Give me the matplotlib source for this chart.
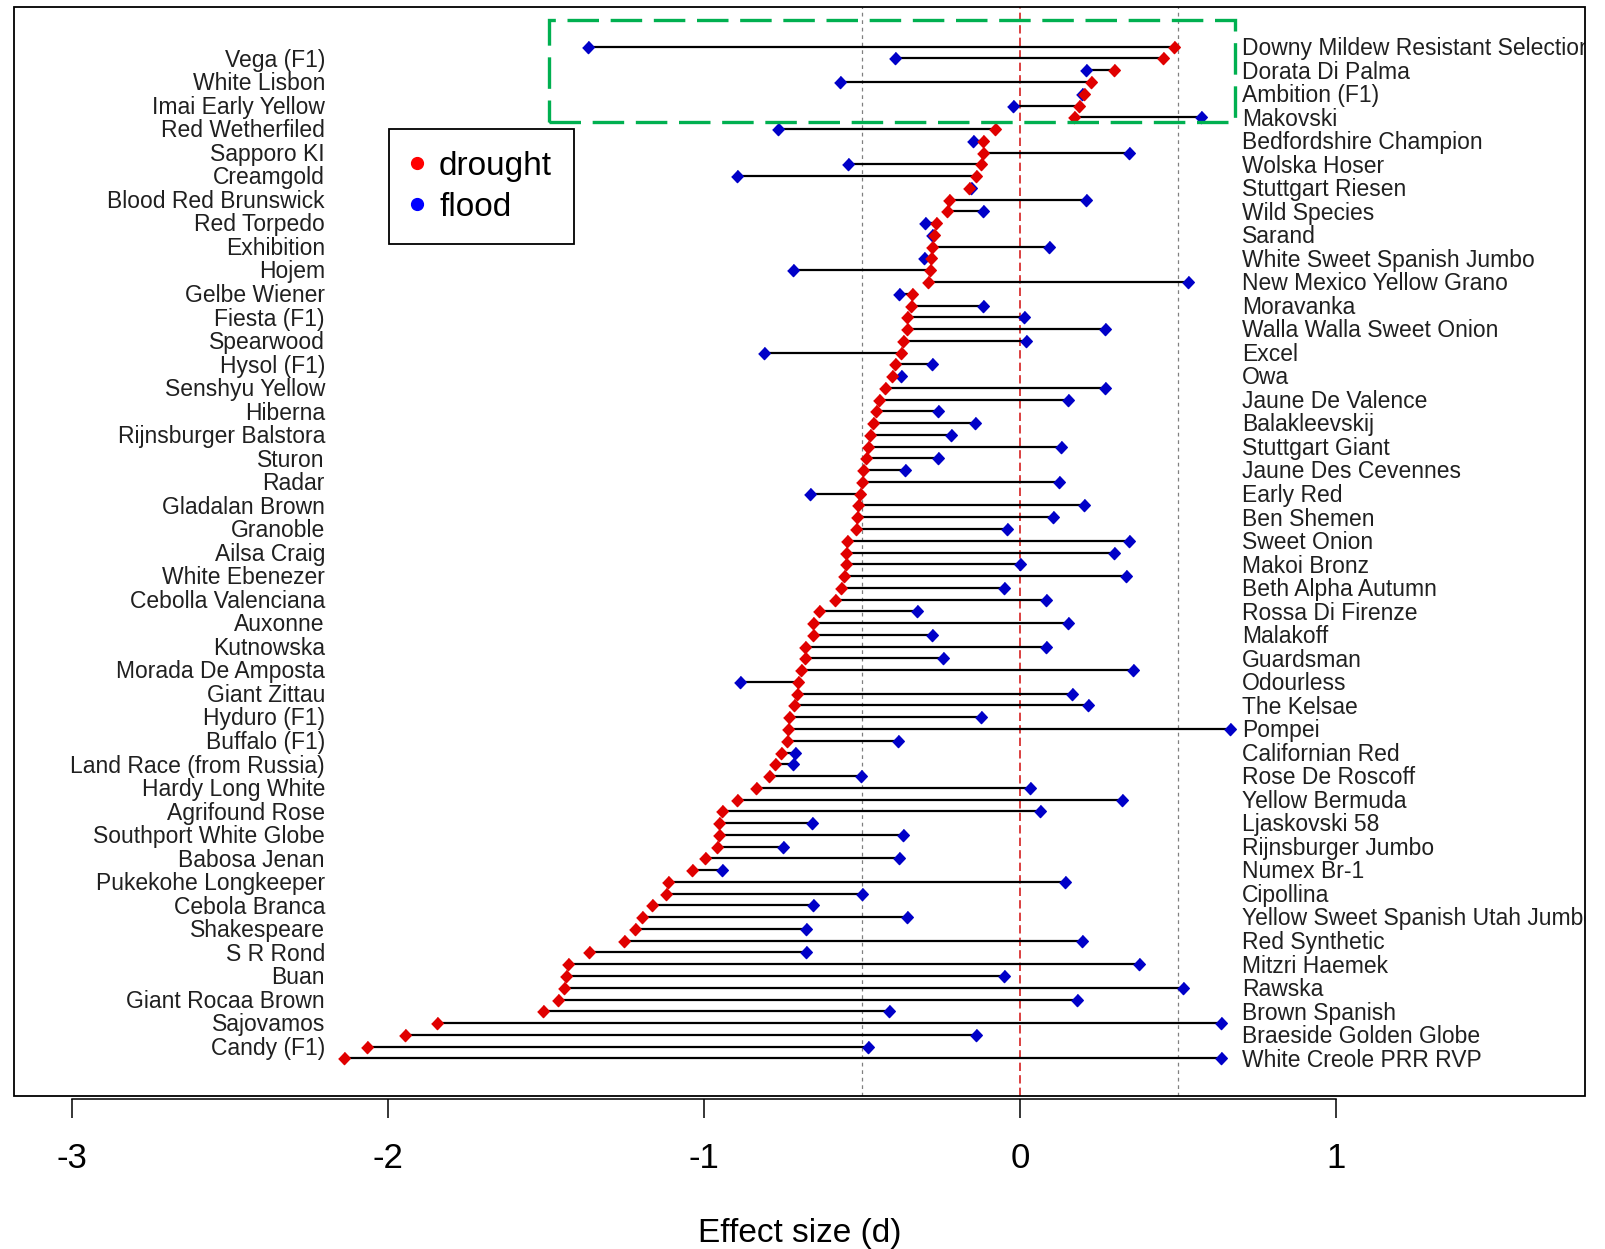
import numpy as np
import matplotlib
matplotlib.use("Agg")
import matplotlib.pyplot as plt
from matplotlib.lines import Line2D
from matplotlib.patches import Rectangle

plt.rcParams["font.family"] = ["Liberation Sans", "DejaVu Sans"]
plt.rcParams["axes.unicode_minus"] = False

# cultivars top to bottom (even rows labelled on the right, odd rows on the left)
cultivars = [
    "Downy Mildew Resistant Selection", "Vega (F1)", "Dorata Di Palma", "White Lisbon",
    "Ambition (F1)", "Imai Early Yellow", "Makovski", "Red Wetherfiled",
    "Bedfordshire Champion", "Sapporo KI", "Wolska Hoser", "Creamgold",
    "Stuttgart Riesen", "Blood Red Brunswick", "Wild Species", "Red Torpedo",
    "Sarand", "Exhibition", "White Sweet Spanish Jumbo", "Hojem",
    "New Mexico Yellow Grano", "Gelbe Wiener", "Moravanka", "Fiesta (F1)",
    "Walla Walla Sweet Onion", "Spearwood", "Excel", "Hysol (F1)",
    "Owa", "Senshyu Yellow", "Jaune De Valence", "Hiberna",
    "Balakleevskij", "Rijnsburger Balstora", "Stuttgart Giant", "Sturon",
    "Jaune Des Cevennes", "Radar", "Early Red", "Gladalan Brown",
    "Ben Shemen", "Granoble", "Sweet Onion", "Ailsa Craig",
    "Makoi Bronz", "White Ebenezer", "Beth Alpha Autumn", "Cebolla Valenciana",
    "Rossa Di Firenze", "Auxonne", "Malakoff", "Kutnowska",
    "Guardsman", "Morada De Amposta", "Odourless", "Giant Zittau",
    "The Kelsae", "Hyduro (F1)", "Pompei", "Buffalo (F1)",
    "Californian Red", "Land Race (from Russia)", "Rose De Roscoff", "Hardy Long White",
    "Yellow Bermuda", "Agrifound Rose", "Ljaskovski 58", "Southport White Globe",
    "Rijnsburger Jumbo", "Babosa Jenan", "Numex Br-1", "Pukekohe Longkeeper",
    "Cipollina", "Cebola Branca", "Yellow Sweet Spanish Utah Jumbo", "Shakespeare",
    "Red Synthetic", "S R Rond", "Mitzri Haemek", "Buan",
    "Rawska", "Giant Rocaa Brown", "Brown Spanish", "Sajovamos",
    "Braeside Golden Globe", "Candy (F1)", "White Creole PRR RVP",
]

drought = [
    0.487, 0.452, 0.298, 0.224, 0.202, 0.185, 0.169, -0.080, -0.119, -0.119,
    -0.124, -0.141, -0.161, -0.224, -0.231, -0.267, -0.274, -0.278, -0.281, -0.285,
    -0.291, -0.341, -0.344, -0.359, -0.359, -0.372, -0.378, -0.396, -0.406, -0.428,
    -0.446, -0.457, -0.465, -0.476, -0.480, -0.489, -0.498, -0.502, -0.507, -0.513,
    -0.515, -0.520, -0.548, -0.552, -0.552, -0.557, -0.567, -0.587, -0.635, -0.654,
    -0.654, -0.681, -0.681, -0.693, -0.702, -0.707, -0.717, -0.730, -0.735, -0.739,
    -0.757, -0.776, -0.794, -0.837, -0.896, -0.943, -0.952, -0.952, -0.959, -0.996,
    -1.039, -1.113, -1.122, -1.165, -1.196, -1.220, -1.254, -1.365, -1.431, -1.437,
    -1.443, -1.461, -1.511, -1.844, -1.948, -2.067, -2.141,
]

flood = [
    -1.367, -0.396, 0.209, -0.569, 0.196, -0.024, 0.572, -0.767, -0.150, 0.346,
    -0.544, -0.896, -0.156, 0.207, -0.119, -0.300, -0.280, 0.091, -0.304, -0.719,
    0.530, -0.383, -0.119, 0.011, 0.270, 0.017, -0.809, -0.280, -0.378, 0.270,
    0.150, -0.261, -0.143, -0.219, 0.128, -0.261, -0.363, 0.122, -0.665, 0.202,
    0.104, -0.041, 0.346, 0.298, -0.002, 0.335, -0.050, 0.081, -0.326, 0.150,
    -0.280, 0.081, -0.243, 0.357, -0.887, 0.163, 0.215, -0.124, 0.663, -0.387,
    -0.711, -0.719, -0.504, 0.030, 0.322, 0.063, -0.659, -0.372, -0.752, -0.383,
    -0.943, 0.141, -0.502, -0.656, -0.359, -0.678, 0.196, -0.678, 0.376, -0.050,
    0.515, 0.181, -0.415, 0.635, -0.141, -0.480, 0.635,
]

x_ticks = [-3, -2, -1, 0, 1]

rows = np.arange(len(cultivars))

fig = plt.figure(figsize=(16.06, 12.49), dpi=100)
ax = fig.add_axes([0.0089, 0.1225, 0.97833, 0.87174])
ax.set_xlim(-3.183, 1.789)
ax.set_ylim(89.2, -3.36)

# reference lines
ax.axvline(0, color="#d42020", lw=1.2, ls=(0, (5, 2.5)), zorder=1)
for v in (-0.5, 0.5):
    ax.axvline(v, color="#808080", lw=0.9, ls=(0, (3, 3)), zorder=1)

# segments + points
ax.hlines(rows, drought, flood, color="black", lw=1.6, zorder=2)
diamond = [(0, 1), (0.95, 0), (0, -1), (-0.95, 0)]
ax.plot(flood, rows, ls="none", marker=diamond, ms=8.8, color="#0000c8", zorder=3)
ax.plot(drought, rows, ls="none", marker=diamond, ms=8.8, color="#e00000", zorder=4)

# labels, alternating sides
for i, name in enumerate(cultivars):
    if i % 2 == 0:
        ax.text(0.703, i + 0.15, name, ha="left", va="center", fontsize=16.5,
                color="#202020", clip_on=True)
    else:
        ax.text(-2.20, i + 0.15, name, ha="right", va="center", fontsize=16.5,
                color="#202020", clip_on=True)

# highlight box around the top rows (drawn from bottom-left like R's rect)
ax.add_patch(Rectangle((-1.491, 6.39), 2.171, -8.62, fill=False, ec="#00b050",
                       lw=2.4, ls=(0, (9.45, 3.5)), zorder=5))

# legend
handles = [Line2D([], [], ls="none", marker="o", ms=8.5, color="#ff0000"),
           Line2D([], [], ls="none", marker="o", ms=8.5, color="#0000ff")]
leg = ax.legend(handles, ["drought", "flood"], loc="upper left",
                bbox_to_anchor=(0.2385, 0.888), fontsize=24, frameon=True,
                fancybox=False, edgecolor="black", framealpha=1, borderpad=0.65,
                labelspacing=0.3, handlelength=0.4, handletextpad=0.45,
                borderaxespad=0)
leg.get_frame().set_linewidth(1.3)

# box + R-style bottom axis
for s in ["top", "right", "left"]:
    ax.spines[s].set_visible(False)
ax.add_patch(Rectangle((0, 0), 1, 1, transform=ax.transAxes, fill=False,
                       lw=1.3, ec="black", clip_on=False, zorder=6))
ax.spines["bottom"].set_position(("outward", 2.5))
ax.spines["bottom"].set_bounds(-3, 1)
ax.spines["bottom"].set_linewidth(1.1)
ax.set_xticks(x_ticks)
ax.set_yticks([])
ax.tick_params(axis="x", direction="out", length=13.7, width=1.1, pad=17,
               labelsize=25)

ax.set_xlabel("Effect size (d)", fontsize=24)
ax.xaxis.set_label_coords(0.5, -0.126)
ax.xaxis.label.set_va("center")

fig.savefig("out.png", dpi=100)
